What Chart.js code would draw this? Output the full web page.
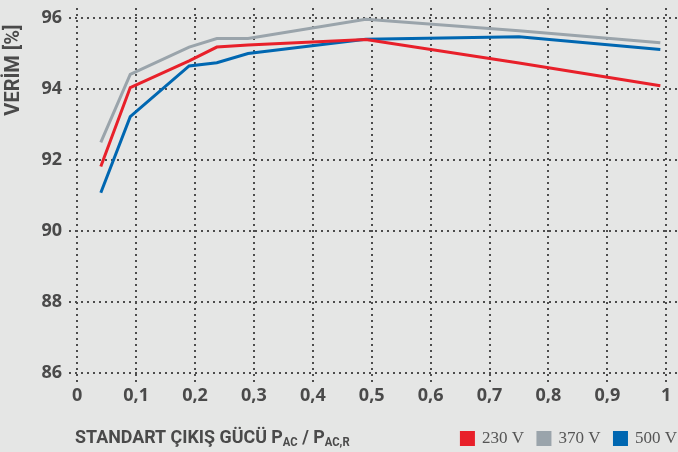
<!DOCTYPE html>
<html>
<head>
<meta charset="utf-8">
<script src="https://cdn.jsdelivr.net/npm/chart.js@4/dist/chart.umd.min.js"></script>
<style>
  html, body { margin: 0; padding: 0; background: #e5e6e5; }
  #wrap { width: 678px; height: 452px; position: relative; }
</style>
</head>
<body>
<div id="wrap"><canvas id="effChart"></canvas></div>
<script>
// values (load ratio vs efficiency %)
const loadRatio = [0.04, 0.09, 0.19, 0.237, 0.29, 0.49, 0.75, 0.99];
const eff230 = [91.81, 94.03, 94.78, 95.17, 95.23, 95.38, 94.72, 94.08];
const eff370 = [92.49, 94.40, 95.17, 95.41, 95.41, 95.95, 95.63, 95.29];
const eff500 = [91.07, 93.21, 94.64, 94.73, 94.99, 95.39, 95.46, 95.10];
const seriesNames = ['230 V', '370 V', '500 V'];
const xTickValues = [0, 0.1, 0.2, 0.3, 0.4, 0.5, 0.6, 0.7, 0.8, 0.9, 1];
const xTickLabels = ['0', '0,1', '0,2', '0,3', '0,4', '0,5', '0,6', '0,7', '0,8', '0,9', '1'];
const yTickValues = [86, 88, 90, 92, 94, 96];

const textColor = '#4a4a4a';
const gridColor = '#4d4d4d';
const tickFont = { family: "'Open Sans', sans-serif", size: 18, weight: 'bold' };

function toPoints(ys) {
    return ys.map(function (y, i) { return { x: loadRatio[i], y: y }; });
}

// axis titles drawn by hand: the x title needs subscripts
const axisTitles = {
    id: 'axisTitles',
    afterLayout: function (chart) {
        // push the legend to the bottom-right edge like the original
        const lg = chart.legend;
        if (lg) {
            lg.left += 13; lg.right += 13;
            lg.top += 5; lg.bottom += 5;
        }
    },
    afterDraw: function (chart) {
        const ctx = chart.ctx;
        ctx.save();
        ctx.fillStyle = textColor;
        ctx.textBaseline = 'alphabetic';
        const big = "bold 19px Roboto, 'Open Sans', sans-serif";
        const small = "bold 12px Roboto, 'Open Sans', sans-serif";
        ctx.save();
        ctx.translate(75, 443);
        ctx.scale(0.94, 1);
        let x = 0;
        const parts = [
            ['STANDART ÇIKIŞ GÜCÜ P', big, 0],
            ['AC', small, 3],
            [' / P', big, 0],
            ['AC,R', small, 3]
        ];
        parts.forEach(function (p) {
            ctx.font = p[1];
            ctx.fillText(p[0], x, p[2]);
            x += ctx.measureText(p[0]).width;
        });
        ctx.restore();

        ctx.translate(14, 70);
        ctx.rotate(-Math.PI / 2);
        ctx.textAlign = 'center';
        ctx.textBaseline = 'middle';
        ctx.font = "bold 20px Roboto, 'Open Sans', sans-serif";
        ctx.fillText('VERİM [%]', 0, 0);
        ctx.restore();
    }
};

const canvas = document.getElementById('effChart');
new Chart(canvas, {
    type: 'line',
    data: {
        datasets: [
            { label: seriesNames[0], data: toPoints(eff230), borderColor: '#e8202a', backgroundColor: '#e8202a' },
            { label: seriesNames[1], data: toPoints(eff370), borderColor: '#9aa4ab', backgroundColor: '#9aa4ab' },
            { label: seriesNames[2], data: toPoints(eff500), borderColor: '#0067b1', backgroundColor: '#0067b1' }
        ]
    },
    options: {
        responsive: true,
        maintainAspectRatio: false,
        animation: false,
        layout: { padding: { top: 8 } },
        elements: {
            line: { borderWidth: 3, tension: 0 },
            point: { radius: 0 }
        },
        plugins: {
            tooltip: { enabled: false },
            legend: {
                position: 'bottom',
                align: 'end',
                labels: {
                    boxWidth: 12,
                    boxHeight: 12,
                    padding: 14,
                    color: '#555',
                    font: { family: "'Liberation Serif', serif", size: 17 }
                }
            }
        },
        scales: {
            x: {
                type: 'linear',
                min: -0.014,
                max: 1.02,
                afterBuildTicks: function (scale) {
                    scale.ticks = xTickValues.map(function (v) { return { value: v }; });
                },
                afterFit: function (scale) {
                    scale.height = 452 - 380 - 43;
                    scale.paddingLeft = 0;
                    scale.paddingRight = 0;
                },
                border: { display: false, dash: [2, 4] },
                grid: { color: gridColor, lineWidth: 2, drawTicks: false },
                ticks: {
                    padding: 3,
                    color: textColor,
                    font: tickFont,
                    maxRotation: 0,
                    callback: function (v) {
                        const i = xTickValues.indexOf(v);
                        return i >= 0 ? xTickLabels[i] : '';
                    }
                }
            },
            y: {
                min: 85.745,
                max: 96.27,
                afterBuildTicks: function (scale) {
                    scale.ticks = yTickValues.map(function (v) { return { value: v }; });
                },
                afterFit: function (scale) {
                    scale.width = 69;
                    scale.paddingTop = 0;
                    scale.paddingBottom = 0;
                },
                border: { display: false, dash: [2, 4] },
                grid: { color: gridColor, lineWidth: 2, drawTicks: false },
                ticks: { padding: 7, color: textColor, font: tickFont }
            }
        }
    },
    plugins: [axisTitles]
});
</script>
</body>
</html>
